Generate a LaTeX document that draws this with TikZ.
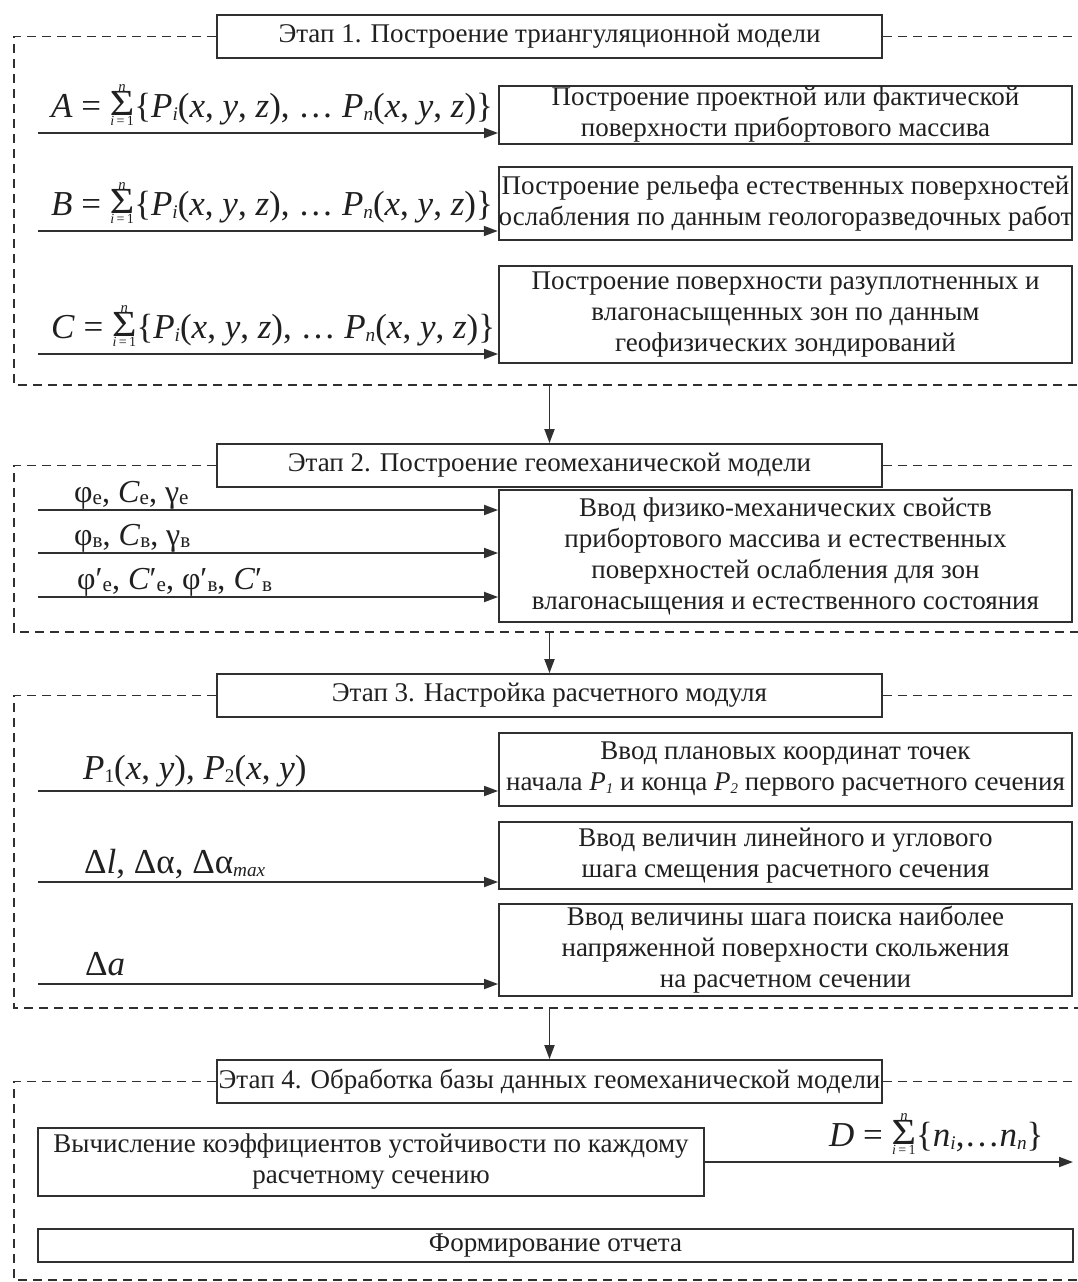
\documentclass[tikz,border=0pt]{standalone}
\usepackage{fontspec}
\usepackage{graphicx}
\setmainfont{Liberation Serif}
\usetikzlibrary{arrows.meta}
\definecolor{ln}{HTML}{303030}
\definecolor{tx}{HTML}{202020}
\newcommand\bodyf{\fontsize{27}{31}\selectfont}
\newcommand\formf{\fontsize{35}{40}\selectfont}
\newcommand\labf{\fontsize{32}{38}\selectfont}
\newcommand\sbs[1]{\raisebox{-0.1em}{\scalebox{0.55}{#1}}}
\newcommand\sbc[1]{\raisebox{-0.08em}{\scalebox{0.66}{#1}}}
\newcommand\Sig{\raisebox{-0.24em}{\shortstack{\scalebox{0.42}{\itshape n}\\[-3pt]\scalebox{1.2}[1.05]{Σ}\\[-2pt]\scalebox{0.4}{\itshape i\,\upshape=\,1}}}}
\newcommand\PP[1]{\textit{P}\sbs{\textit{#1}}(\textit{x}, \textit{y}, \textit{z})}
\begin{document}
\begin{tikzpicture}[x=1pt,y=-1pt,
  box/.style={draw=ln, line width=1.8pt, fill=white, inner sep=0pt, align=center, font=\bodyf, text=tx},
  frm/.style={draw=ln, line width=1.6pt, dash pattern=on 9pt off 6pt},
  arr/.style={draw=ln, line width=1.8pt, -{Triangle[length=14pt,width=10pt]}},
  lbl/.style={inner sep=0pt, anchor=base west, text=tx}]
\fill[white] (0,0) rectangle (1078,1282);
\useasboundingbox (0,0) rectangle (1078,1282);

% ---------- Stage 1
\node[box, minimum width=665pt, minimum height=43pt] (t1) at (549.5,36.5) {Этап 1. Построение триангуляционной модели};
\node[box, minimum width=573pt, minimum height=58pt] (b1) at (785.5,115) {Построение проектной или фактической\\поверхности прибортового массива};
\node[box, minimum width=573pt, minimum height=73pt] (b2) at (785.5,203.5) {Построение рельефа естественных поверхностей\\ослабления по данным геологоразведочных работ};
\node[box, minimum width=573pt, minimum height=97pt] (b3) at (785.5,314.5) {Построение поверхности разуплотненных и\\влагонасыщенных зон по данным\\геофизических зондирований};
\draw[frm] (t1.west) -- (14,36.5) -- (14,385) -- (1078,385);
\draw[frm] (t1.east) -- (1078,36.5);
\coordinate (sA) at (38,133);
\coordinate (sB) at (38,231);
\coordinate (sC) at (38,354);
\draw[arr] (sA) -- (sA -| b1.west);
\draw[arr] (sB) -- (sB -| b2.west);
\draw[arr] (sC) -- (sC -| b3.west);
\node[lbl, font=\formf] (lA) at (51,117) {\textit{A} = \Sig\{\PP{i}, … \PP{n}\}};
\node[lbl, font=\formf] (lB) at (51,215) {\textit{B} = \Sig\{\PP{i}, … \PP{n}\}};
\node[lbl, font=\formf] (lC) at (51,338) {\textit{C} = \Sig\{\PP{i}, … \PP{n}\}};

% ---------- Stage 2
\node[box, minimum width=665pt, minimum height=43pt] (t2) at (549.5,465.5) {Этап 2. Построение геомеханической модели};
\node[box, minimum width=573pt, minimum height=132pt] (b4) at (785.5,556) {Ввод физико-механических свойств\\прибортового массива и естественных\\поверхностей ослабления для зон\\влагонасыщения и естественного состояния};
\coordinate (f1) at (549.5,385);
\draw[arr] (f1) -- (t2.north);
\draw[frm] (t2.west) -- (14,465.5) -- (14,632) -- (1078,632);
\draw[frm] (t2.east) -- (1078,465.5);
\coordinate (sD) at (38,510);
\coordinate (sE) at (38,553);
\coordinate (sF) at (38,597);
\draw[arr] (sD) -- (sD -| b4.west);
\draw[arr] (sE) -- (sE -| b4.west);
\draw[arr] (sF) -- (sF -| b4.west);
\node[lbl, font=\labf] (lD) at (74,502) {φ\sbc{е}, \textit{C}\sbc{е}, γ\sbc{е}};
\node[lbl, font=\labf] (lE) at (74,545) {φ\sbc{в}, \textit{C}\sbc{в}, γ\sbc{в}};
\node[lbl, font=\labf] (lF) at (77,589) {φ′\sbc{е}, \textit{C}′\sbc{е}, φ′\sbc{в}, \textit{C}′\sbc{в}};

% ---------- Stage 3
\node[box, minimum width=665pt, minimum height=43pt] (t3) at (549.5,695.5) {Этап 3. Настройка расчетного модуля};
\node[box, minimum width=573pt, minimum height=73pt] (b5) at (785.5,769.5) {Ввод плановых координат точек\\начала \textit{P}\sbs{\textit{1}} и конца \textit{P}\sbs{\textit{2}} первого расчетного сечения};
\node[box, minimum width=573pt, minimum height=67pt] (b6) at (785.5,855.5) {Ввод величин линейного и углового\\шага смещения расчетного сечения};
\node[box, minimum width=573pt, minimum height=92pt] (b7) at (785.5,950) {Ввод величины шага поиска наиболее\\напряженной поверхности скольжения\\на расчетном сечении};
\coordinate (f2) at (549.5,632);
\draw[arr] (f2) -- (t3.north);
\draw[frm] (t3.west) -- (14,695.5) -- (14,1008) -- (1078,1008);
\draw[frm] (t3.east) -- (1078,695.5);
\coordinate (sG) at (38,791);
\coordinate (sH) at (38,882);
\coordinate (sI) at (38,984);
\draw[arr] (sG) -- (sG -| b5.west);
\draw[arr] (sH) -- (sH -| b6.west);
\draw[arr] (sI) -- (sI -| b7.west);
\node[lbl, font=\formf] (lG) at (83,779) {\textit{P}\sbs{1}(\textit{x}, \textit{y}), \textit{P}\sbs{2}(\textit{x}, \textit{y})};
\node[lbl, font=\formf] (lH) at (84,873) {Δ\textit{l}, Δα, Δα\sbs{\textit{max}}};
\node[lbl, font=\formf] (lI) at (85,975) {Δ\textit{a}};

% ---------- Stage 4
\node[box, minimum width=665pt, minimum height=43pt] (t4) at (549.5,1081.5) {Этап 4. Обработка базы данных геомеханической модели};
\node[box, minimum width=666pt, minimum height=68pt] (b8) at (371,1162) {Вычисление коэффициентов устойчивости по каждому\\расчетному сечению};
\node[box, minimum width=1035pt, minimum height=33pt] (b9) at (555.5,1245.5) {Формирование отчета};
\coordinate (f3) at (549.5,1008);
\draw[arr] (f3) -- (t4.north);
\draw[frm] (t4.west) -- (14,1081.5) -- (14,1280) -- (1078,1280);
\draw[frm] (t4.east) -- (1078,1081.5);
\coordinate (eD) at (1073,1162);
\draw[arr] (b8.east) -- (eD);
\node[lbl, font=\formf] (lJ) at (829,1146) {\textit{D} = \Sig\{\textit{n}\sbs{\textit{i}},…\textit{n}\sbs{\textit{n}}\}};
\end{tikzpicture}
\end{document}
